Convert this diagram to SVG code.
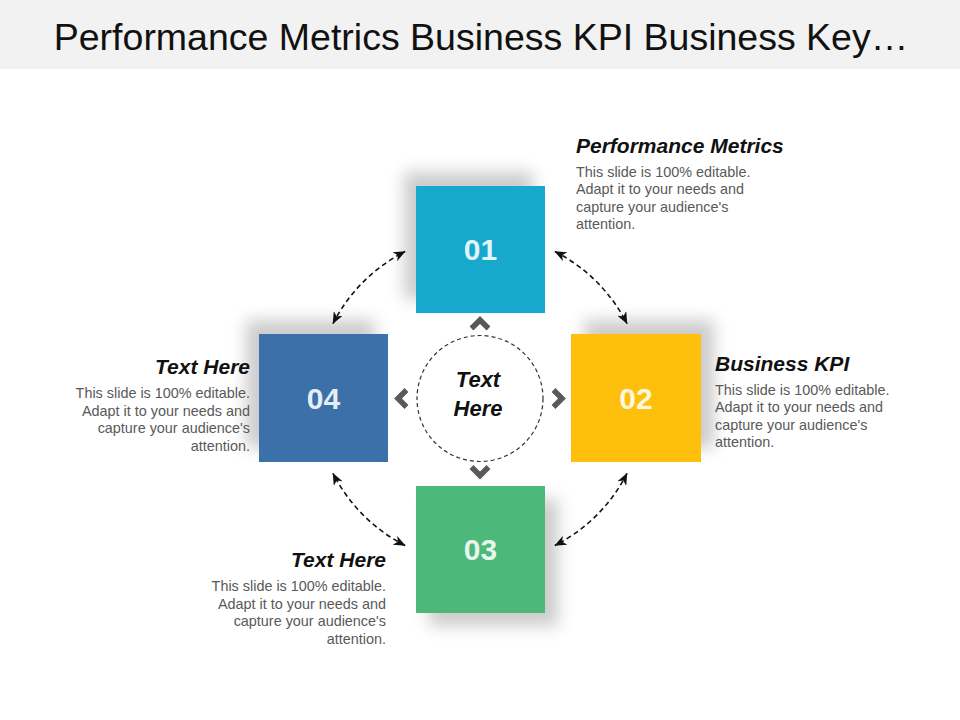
<svg xmlns="http://www.w3.org/2000/svg" width="960" height="720" viewBox="0 0 960 720">
  <defs>
    <filter id="soft" x="-40%" y="-40%" width="180%" height="180%">
      <feGaussianBlur stdDeviation="8"/>
    </filter>
    <marker id="stealth" viewBox="0 0 12 10" refX="11.5" refY="5" markerUnits="userSpaceOnUse" markerWidth="12" markerHeight="10" orient="auto-start-reverse">
      <path d="M0,0 L12,5 L0,10 L3.5,5 Z" fill="#111"/>
    </marker>
    <style>
      .title{font-family:"Liberation Sans",Arial,sans-serif;font-size:37.5px;fill:#111}
      .num{font-family:"Liberation Sans",Arial,sans-serif;font-size:30px;font-weight:bold;fill:#ffffff;fill-opacity:0.88;text-anchor:middle}
      .head{font-family:"Liberation Sans",Arial,sans-serif;font-size:21px;font-weight:bold;font-style:italic;fill:#111}
      .body{font-family:"Liberation Sans",Arial,sans-serif;font-size:14.4px;fill:#595959}
      .center{font-family:"Liberation Sans",Arial,sans-serif;font-size:22px;font-weight:bold;font-style:italic;fill:#111;text-anchor:middle}
      .shadow{fill:#000;fill-opacity:0.2;filter:url(#soft)}
      .chev{fill:none;stroke:#595959;stroke-width:5.5;stroke-linejoin:miter}
      .link{fill:none;stroke:#111;stroke-width:1.6;stroke-dasharray:5 3.5;marker-start:url(#stealth);marker-end:url(#stealth)}
      .ring{fill:#fff;stroke:#333;stroke-width:1.2;stroke-dasharray:4 3}
    </style>
  </defs>

  <rect x="0" y="0" width="960" height="720" fill="#ffffff"/>
  <g id="title">
    <rect x="0" y="0" width="960" height="69" fill="#f2f2f2"/>
    <text class="title" x="481" y="50" text-anchor="middle">Performance Metrics Business KPI Business Key…</text>
  </g>

  <g id="connectors">
    <path class="link" d="M554.9 251.5 A165 165 0 0 1 627 323.6"/>
    <path class="link" d="M333 323.6 A165 165 0 0 1 405.1 251.5"/>
    <path class="link" d="M405.1 545.5 A165 165 0 0 1 333 473.4"/>
    <path class="link" d="M627 473.4 A165 165 0 0 1 554.9 545.5"/>
    <polyline class="chev" points="471.5,328.5 480,320 488.5,328.5"/>
    <polyline class="chev" points="471.5,467 480,475.5 488.5,467"/>
    <polyline class="chev" points="406.5,390 398,398.5 406.5,407"/>
    <polyline class="chev" points="553.5,390 562,398.5 553.5,407"/>
  </g>

  <g id="center">
    <circle class="ring" cx="480" cy="398.5" r="63"/>
    <text class="center" x="478" y="387">Text</text>
    <text class="center" x="478" y="416">Here</text>
  </g>

  <g id="node-01">
    <rect class="shadow" x="404" y="172" width="129" height="127"/>
    <rect x="416" y="186" width="129" height="127" fill="#17a8cd"/>
    <text class="num" x="480.5" y="260">01</text>
  </g>

  <g id="node-02">
    <rect class="shadow" x="584" y="320" width="130" height="128"/>
    <rect x="571" y="334" width="130" height="128" fill="#fec00c"/>
    <text class="num" x="636" y="409">02</text>
  </g>

  <g id="node-03">
    <rect class="shadow" x="429" y="499" width="129" height="127"/>
    <rect x="416" y="486" width="129" height="127" fill="#4cb87a"/>
    <text class="num" x="480.5" y="560">03</text>
  </g>

  <g id="node-04">
    <rect class="shadow" x="246" y="320" width="129" height="128"/>
    <rect x="259" y="334" width="129" height="128" fill="#3b70a8"/>
    <text class="num" x="323.5" y="409">04</text>
  </g>

  <g id="text-01">
    <text class="head" x="576" y="153">Performance Metrics</text>
    <text class="body" x="576" y="176.5">This slide is 100% editable.</text>
    <text class="body" x="576" y="194">Adapt it to your needs and</text>
    <text class="body" x="576" y="211.5">capture your audience's</text>
    <text class="body" x="576" y="229">attention.</text>
  </g>

  <g id="text-02">
    <text class="head" x="715" y="371">Business KPI</text>
    <text class="body" x="715" y="394.5">This slide is 100% editable.</text>
    <text class="body" x="715" y="412">Adapt it to your needs and</text>
    <text class="body" x="715" y="429.5">capture your audience's</text>
    <text class="body" x="715" y="447">attention.</text>
  </g>

  <g id="text-04" text-anchor="end">
    <text class="head" x="250" y="374">Text Here</text>
    <text class="body" x="250" y="398">This slide is 100% editable.</text>
    <text class="body" x="250" y="415.5">Adapt it to your needs and</text>
    <text class="body" x="250" y="433">capture your audience's</text>
    <text class="body" x="250" y="450.5">attention.</text>
  </g>

  <g id="text-03" text-anchor="end">
    <text class="head" x="386" y="567">Text Here</text>
    <text class="body" x="386" y="591">This slide is 100% editable.</text>
    <text class="body" x="386" y="608.5">Adapt it to your needs and</text>
    <text class="body" x="386" y="626">capture your audience's</text>
    <text class="body" x="386" y="643.5">attention.</text>
  </g>
</svg>
